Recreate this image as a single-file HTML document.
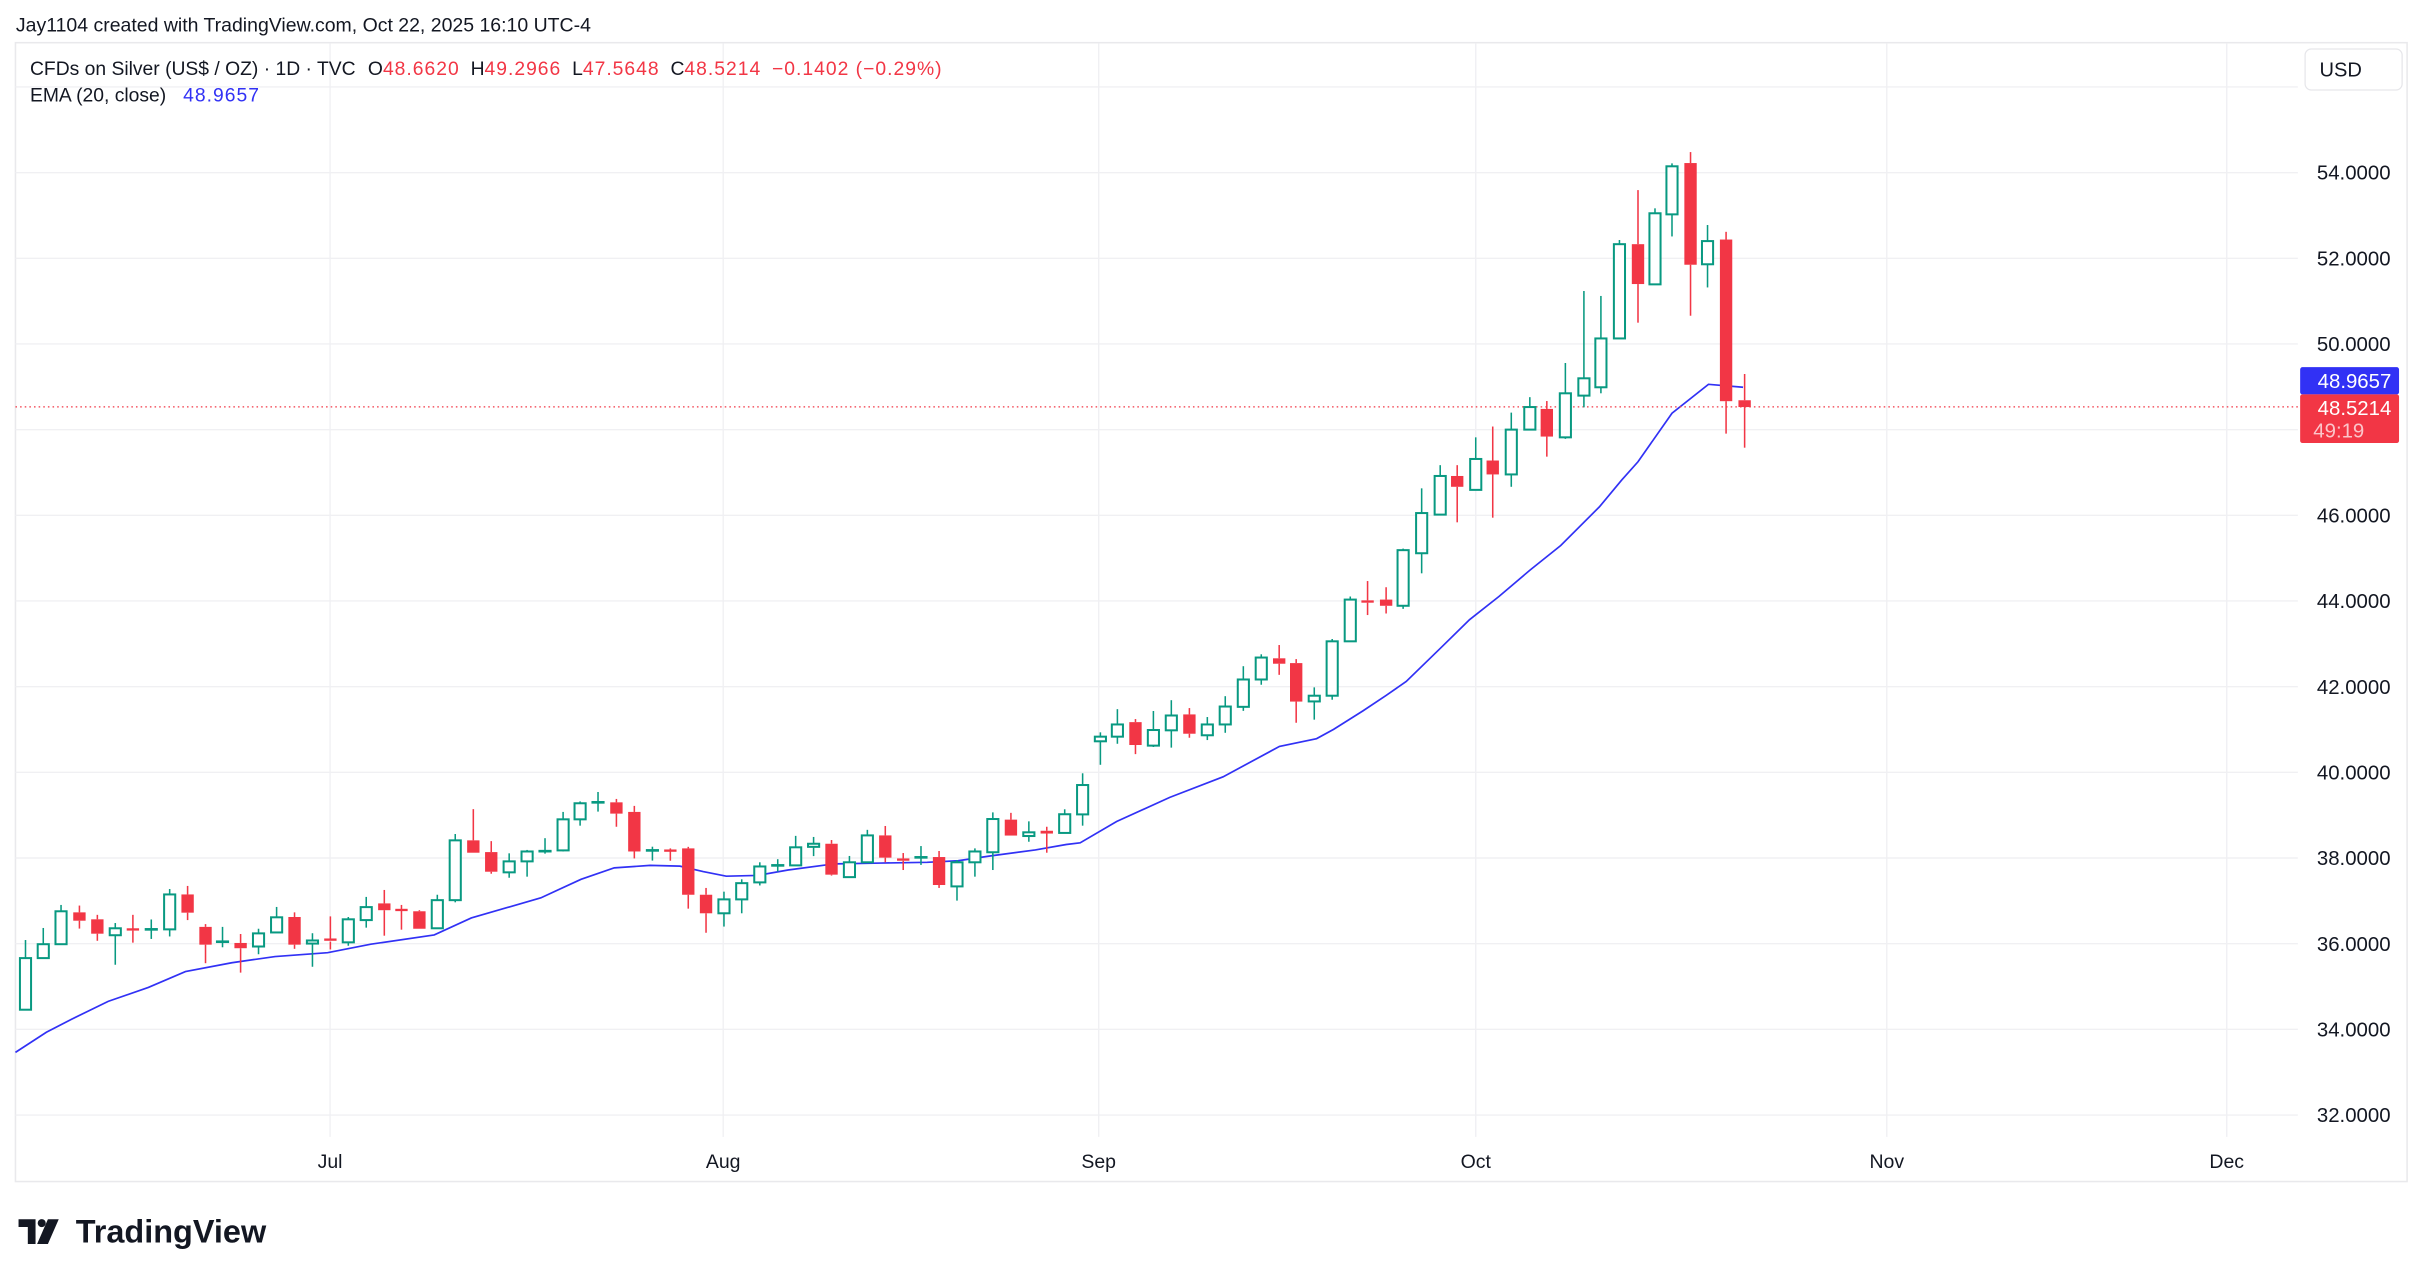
<!DOCTYPE html>
<html><head><meta charset="utf-8"><style>
html,body{margin:0;padding:0;background:#fff;}
svg{display:block;}
text{font-family:"Liberation Sans",sans-serif;}
.n{letter-spacing:0.65px;}
</style></head><body>
<svg id="s" xmlns="http://www.w3.org/2000/svg" width="2423" height="1278" viewBox="0 0 1568 827">
<rect width="1568" height="827" fill="#fff"/>
<text x="10.3" y="20.5" font-size="12.6" fill="#131722">Jay1104 created with TradingView.com, Oct 22, 2025 16:10 UTC-4</text>
<rect x="10" y="27.6" width="1547.7" height="737" fill="none" stroke="#e9e9ec" stroke-width="1"/>
<g id="grid" stroke="#f0f0f3" stroke-width="0.9"></g>
<g id="ema"></g>
<line x1="10" y1="263.3" x2="1487" y2="263.3" stroke="#f23645" stroke-width="0.8" stroke-dasharray="1,2"/>
<g id="c"></g>
<g id="pl" font-size="13.2" fill="#131722" text-anchor="end"></g>
<g font-size="12.6" fill="#131722" text-anchor="middle">
<text x="213.6" y="756">Jul</text><text x="468" y="756">Aug</text><text x="711" y="756">Sep</text>
<text x="955" y="756">Oct</text><text x="1221" y="756">Nov</text><text x="1441" y="756">Dec</text>
</g>
<rect x="1491.7" y="31.7" width="62.8" height="26.5" rx="4" fill="#fff" stroke="#e6e6ea" stroke-width="0.8"/>
<text x="1501" y="49.5" font-size="13" fill="#131722">USD</text>
<rect x="1488.5" y="237.6" width="64" height="17.6" rx="1.5" fill="#3131f5"/>
<text x="1547.5" y="251" font-size="13.2" fill="#fff" text-anchor="end">48.9657</text>
<rect x="1488.5" y="255.2" width="64" height="31.5" rx="1.5" fill="#f23645"/>
<text x="1547.5" y="268.5" font-size="13.2" fill="#fff" text-anchor="end">48.5214</text>
<text x="1497" y="283" font-size="13.2" fill="#fbc5ca">49:19</text>
<text x="19.4" y="48.5" font-size="12.5" fill="#131722">CFDs on Silver (US$ / OZ) · 1D · TVC<tspan dx="8">O</tspan><tspan class="n" fill="#f23645">48.6620</tspan><tspan dx="7">H</tspan><tspan class="n" fill="#f23645">49.2966</tspan><tspan dx="7">L</tspan><tspan class="n" fill="#f23645">47.5648</tspan><tspan dx="7">C</tspan><tspan class="n" fill="#f23645">48.5214</tspan><tspan dx="7" class="n" fill="#f23645">−0.1402 (−0.29%)</tspan></text>
<text x="19.4" y="65.8" font-size="12.5" fill="#131722">EMA (20, close)<tspan dx="11" class="n" fill="#3131f5">48.9657</tspan></text>
<g fill="#131722">
<path d="M12 789 h11 v16 h-5 v-11 h-6 z"/>
<circle cx="27" cy="791.5" r="2.6"/>
<path d="M31 789 h7 l-7 16 h-7 z"/>
</g>
<text x="49" y="804" font-size="21" font-weight="bold" fill="#131722">TradingView</text>
</svg>
<script>
var NS="http://www.w3.org/2000/svg";
function el(p,t,a){var e=document.createElementNS(NS,t);for(var k in a)e.setAttribute(k,a[k]);p.appendChild(e);return e;}
var g=document.getElementById('grid');
function py(p){return 111.7+(54-p)*27.72;}
[213.6,468,711,955,1221,1441].forEach(function(x){el(g,'line',{x1:x,y1:28,x2:x,y2:735.7});});
var pl=document.getElementById('pl');
for(var p=32;p<=56;p+=2){var y=py(p);el(g,'line',{x1:10,y1:y,x2:1487,y2:y});
 if(p<=54&&p!=48){var t=el(pl,'text',{x:1547,y:y+4.6});t.textContent=p.toFixed(4);}}
var D=[[16.5,653.4,620,608.3,653.4],[28,620,611,600.5,620],[39.5,611,589.7,585.6,611],[51.4,590.4,595.8,586,600.9],[63,594.9,604.2,592,608.8],[74.6,605.2,600.7,597.3,624.3],[86,601.4,602.2,592,610],[97.9,601.6,601.2,595,607.6],[109.8,601.4,578.8,575.3,606],[121.4,578.8,590.6,573.3,595.4],[133,599.8,611.3,598,623.3],[144,609.6,609.2,599.8,613],[155.7,610.2,613.6,604.4,629.4],[167.3,612.5,604,601,617.5],[179,603.4,593.6,586.9,603.4],[190.6,593.4,611.3,590.4,614],[202.2,610.6,608.6,603.9,625.6],[213.8,608,609.3,593,614.4],[225.4,609.8,594.9,593.4,612],[237,595.4,587,580.4,600.3],[248.7,584.6,589,575.9,605.5],[259.8,588.8,589.2,585.6,601.6],[271.4,589.7,601,589,601],[283,600.7,582.5,579,600.7],[294.6,582.5,543.8,539.7,583.9],[306.3,543.8,551.8,523.6,551.8],[317.9,551.4,564.1,544.3,565.4],[329.5,564.5,557.4,552.2,568],[341.1,557.4,551,550,567.3],[352.7,551,550.6,542.4,552.4],[364.4,550.3,530.2,525.4,551],[375.4,530.2,519.8,518.6,534.3],[387,519.4,519,512.5,525.2],[398.9,519.2,526.5,517,535],[410.5,525.4,551,521.5,555.5],[422.2,550.5,550.1,547.9,556.9],[433.8,550.4,550.8,549,557],[445.4,549,579,548,588],[456.9,579,591,574.6,603.6],[468.5,591,582,577,599.6],[480,582,571.5,569,591],[491.7,571,560.7,558,573],[503.3,560.2,559.8,556,564],[514.9,560,548.3,540.9,560],[526.5,548,546,541.6,554],[538.1,546,566,543.6,566.6],[549.7,567.6,558,553.9,567.6],[561.3,558,540.6,537,558],[572.9,540.6,555,534.5,558],[584.5,555.5,557,552,563],[596,555,554.6,547.5,559.7],[607.7,554.6,572.7,550.7,574.6],[619.3,573.6,558,556.5,582.8],[630.9,558,551,549,567.3],[642.5,551.5,530,525.7,563],[654.2,530.4,540.7,526,540.7],[665.8,541,538.6,531.5,544.7],[677.4,537.6,539.4,535,551.8],[689,539,526.9,523.7,539],[700.6,527,508,500.4,534.3],[712.1,479.7,476.7,473.9,494.9],[723.1,476.7,468.8,458.9,481.3],[734.8,467.3,482.1,465.3,488],[746.4,482.5,472.4,460.1,483.4],[758,472.6,463,453.1,483.8],[769.7,462.3,474.8,458.2,477.4],[781.3,475.8,468.8,464,478.9],[792.9,468.8,457.2,450.5,474.2],[804.6,457.4,439.7,431.1,460],[816.2,439.7,425.5,423.4,443.1],[827.8,426,429.5,417.4,436.7],[838.8,429.1,454,426.5,467.7],[850.5,453.9,450.2,444.8,465.7],[862.1,450.2,415,413.5,452.8],[873.8,415,388,386,415],[885,388.5,390,376,398],[897,388,392,380,397],[908,392,356,355,394],[920,358,332,316,371],[932,333,308,301,333],[943,308,315,301,338],[955,317,297,283,317],[966,298,307,276,335],[978,307,278,267,315],[990,278,263.4,257,278],[1001,264.6,282.5,259.5,295.5],[1013,283,254.5,234.9,284],[1025,256,244.8,188.3,263.6],[1036,250.6,219,191.5,254.5],[1048,219,158,155.3,219],[1060,158,183.8,123,208.8],[1071,184,138,134.8,184],[1082,138.7,107.6,105.7,153],[1094,105.5,171.3,98.4,204.3],[1105,171,156,145.6,186],[1117,155,259.6,150,280.6],[1129,259,263.4,242,289.7]];
var cg=document.getElementById('c');
D.forEach(function(d){var x=d[0],o=d[1],c=d[2],h=d[3],l=d[4];var up=c<o;var col=up?'#089981':'#f23645';
 var top=Math.min(o,c),bot=Math.max(o,c);
 if(h<top)el(cg,'line',{x1:x,y1:h,x2:x,y2:top,stroke:col,'stroke-width':1});
 if(l>bot)el(cg,'line',{x1:x,y1:bot,x2:x,y2:l,stroke:col,'stroke-width':1});
 var hh=Math.max(bot-top,0.01);
 if(up){el(cg,'rect',{x:x-3.6,y:top,width:7.2,height:hh,fill:'#fff',stroke:col,'stroke-width':1.3});}
 else{if(hh<1.5){el(cg,'rect',{x:x-4,y:top-0.7,width:8,height:1.5,fill:col});}else el(cg,'rect',{x:x-4,y:top,width:8,height:hh,fill:col});}
});
var E=[[10,681],[30,668],[46,659.7],[70,648],[96,639],[120,628.7],[150,623],[178,619],[212,616.5],[240,611],[281,605],[305,594],[350,581],[376,569],[397.5,561.6],[420.7,560],[440,560.5],[455,564],[470,567],[490,566.5],[510,563],[540,559],[570,558.5],[600,558],[620,557],[640,554],[670,550],[690,546.5],[699,545.4],[722.6,531.6],[757,516],[791.5,502.7],[828,483],[852,478],[863,472],[882,460],[897,450],[910,441],[932,419.6],[951,401],[970,386],[990,369],[1010,353],[1035,328],[1049.5,310.6],[1060,298.8],[1082,267.4],[1105.6,248.7],[1128,250.6]];
el(document.getElementById('ema'),'polyline',{points:E.map(function(p){return p.join(',')}).join(' '),fill:'none',stroke:'#3131f5','stroke-width':1.1});
</script>
</body></html>
